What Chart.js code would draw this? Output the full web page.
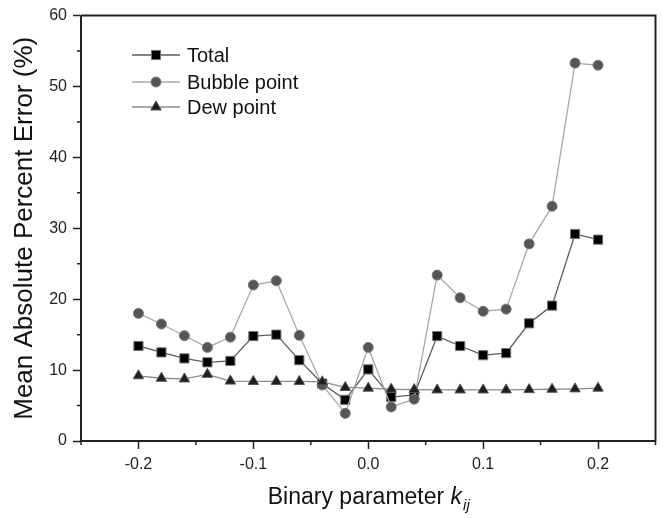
<!DOCTYPE html>
<html>
<head>
<meta charset="utf-8">
<script src="https://cdn.jsdelivr.net/npm/chart.js@4"></script>
<style>
  html, body { margin: 0; padding: 0; background: #fff; }
</style>
</head>
<body>
<canvas id="chart" width="663" height="518"></canvas>
<script>
// data
const kValues = [-0.2, -0.18, -0.16, -0.14, -0.12, -0.1, -0.08, -0.06, -0.04, -0.02, 0,
                 0.02, 0.04, 0.06, 0.08, 0.1, 0.12, 0.14, 0.16, 0.18, 0.2];
const totalErr  = [13.4, 12.5, 11.65, 11.1, 11.3, 14.8, 15.0, 11.4, 8.1, 5.8, 10.1,
                   6.2, 6.5, 14.8, 13.4, 12.1, 12.4, 16.6, 19.1, 29.2, 28.4];
const bubbleErr = [18.0, 16.5, 14.85, 13.2, 14.65, 22.0, 22.6, 14.9, 7.9, 3.9, 13.2,
                   4.8, 5.9, 23.4, 20.2, 18.3, 18.6, 27.8, 33.1, 53.3, 53.0];
const dewErr    = [9.2, 8.85, 8.75, 9.4, 8.45, 8.4, 8.4, 8.4, 8.35, 7.55, 7.45,
                   7.3, 7.25, 7.2, 7.2, 7.2, 7.2, 7.25, 7.3, 7.35, 7.45];
const seriesNames = ['Total', 'Bubble point', 'Dew point'];
const xTicks = [-0.2, -0.1, 0.0, 0.1, 0.2];

const FONT = "'Liberation Sans', Arial, sans-serif";

function pts(ys){
  return kValues.map((k, i) => ({x: k, y: ys[i]}));
}

// Little helper to draw a marker like Chart.js does (for the legend)
function marker(ctx, style, x, y, r, fill, stroke){
  ctx.save();
  ctx.fillStyle = fill;
  ctx.strokeStyle = stroke;
  ctx.lineWidth = 1;
  ctx.beginPath();
  if(style === 'rect'){
    const s = Math.SQRT1_2 * r;
    ctx.rect(x - s, y - s, 2 * s, 2 * s);
  } else if(style === 'triangle'){
    ctx.moveTo(x, y - r);
    ctx.lineTo(x + Math.sin(Math.PI * 2 / 3) * r, y + r / 2);
    ctx.lineTo(x - Math.sin(Math.PI * 2 / 3) * r, y + r / 2);
    ctx.closePath();
  } else {
    ctx.arc(x, y, r, 0, Math.PI * 2);
  }
  ctx.fill();
  ctx.stroke();
  ctx.restore();
}

const isMajorX = v => Math.abs(v * 10 - Math.round(v * 10)) < 1e-6;
const isMajorY = v => Math.abs(v % 10) < 1e-6;

// frame, minor ticks, legend, x title
const extras = {
  id: 'extras',
  afterDraw(chart){
    const ctx = chart.ctx;
    const a = chart.chartArea;
    const xs = chart.scales.x, ys = chart.scales.y;

    ctx.save();
    // top + right border
    ctx.strokeStyle = '#222';
    ctx.lineWidth = 2;
    ctx.beginPath();
    ctx.moveTo(a.left, a.top);
    ctx.lineTo(a.right, a.top);
    ctx.lineTo(a.right, a.bottom);
    ctx.stroke();

    // short minor ticks
    ctx.lineWidth = 1.5;
    ctx.beginPath();
    xs.ticks.forEach(t => {
      if(!isMajorX(t.value)){
        const px = xs.getPixelForValue(t.value);
        ctx.moveTo(px, a.bottom);
        ctx.lineTo(px, a.bottom + 4);
      }
    });
    ys.ticks.forEach(t => {
      if(!isMajorY(t.value)){
        const py = ys.getPixelForValue(t.value);
        ctx.moveTo(a.left - 4, py);
        ctx.lineTo(a.left, py);
      }
    });
    ctx.stroke();

    // legend
    const rowY = [55, 82, 107];
    chart.data.datasets.forEach((ds, i) => {
      const y = rowY[i];
      ctx.strokeStyle = ds.borderColor;
      ctx.lineWidth = ds.borderWidth;
      ctx.beginPath();
      ctx.moveTo(132, y);
      ctx.lineTo(180, y);
      ctx.stroke();
      marker(ctx, ds.pointStyle, 156, y, ds.pointRadius, ds.pointBackgroundColor, ds.pointBorderColor);
      ctx.fillStyle = '#111';
      ctx.font = '20px ' + FONT;
      ctx.textBaseline = 'middle';
      ctx.textAlign = 'left';
      ctx.fillText(ds.label, 187, y + 1);
    });

    // x axis title with italic subscript
    const main = 'Binary parameter ';
    const f1 = '23px ' + FONT, f2 = 'italic 23px ' + FONT, f3 = 'italic 15px ' + FONT;
    ctx.font = f1; const w1 = ctx.measureText(main).width;
    ctx.font = f2; const w2 = ctx.measureText('k').width;
    ctx.font = f3; const w3 = ctx.measureText('ij').width;
    let x0 = (a.left + a.right) / 2 - (w1 + w2 + w3) / 2;
    const base = 504;
    ctx.fillStyle = '#111';
    ctx.textBaseline = 'alphabetic';
    ctx.textAlign = 'left';
    ctx.font = f1; ctx.fillText(main, x0, base);
    ctx.font = f2; ctx.fillText('k', x0 + w1, base);
    ctx.font = f3; ctx.fillText('ij', x0 + w1 + w2 + 1, base + 6);
    ctx.restore();
  }
};

new Chart(document.getElementById('chart'), {
  type: 'line',
  data: {
    datasets: [
      {
        label: seriesNames[0],
        data: pts(totalErr),
        borderColor: '#5a5a5a',
        borderWidth: 1.3,
        pointStyle: 'rect',
        pointRadius: 6.5,
        pointBackgroundColor: '#000',
        pointBorderColor: '#777',
        pointBorderWidth: 1,
        order: 2
      },
      {
        label: seriesNames[1],
        data: pts(bubbleErr),
        borderColor: '#a8a8a8',
        borderWidth: 1.3,
        pointStyle: 'circle',
        pointRadius: 5,
        pointBackgroundColor: '#555',
        pointBorderColor: '#777',
        pointBorderWidth: 1,
        order: 1
      },
      {
        label: seriesNames[2],
        data: pts(dewErr),
        borderColor: '#8a8a8a',
        borderWidth: 1.3,
        pointStyle: 'triangle',
        pointRadius: 6,
        pointBackgroundColor: '#1e1e1e',
        pointBorderColor: '#555',
        pointBorderWidth: 1,
        order: 0
      }
    ]
  },
  options: {
    responsive: false,
    animation: false,
    devicePixelRatio: 1,
    layout: { padding: { top: 15, right: 6, left: 0, bottom: 0 } },
    elements: { line: { tension: 0 } },
    plugins: {
      legend: { display: false },
      tooltip: { enabled: false }
    },
    scales: {
      x: {
        type: 'linear',
        min: -0.25,
        max: 0.25,
        afterFit: s => { s.height = 77; },
        border: { display: true, color: '#222', width: 2 },
        grid: {
          drawOnChartArea: false,
          drawTicks: true,
          tickLength: 8,
          tickWidth: 1.5,
          tickColor: c => (c.tick && isMajorX(c.tick.value)) ? '#222' : 'rgba(0,0,0,0)'
        },
        ticks: {
          stepSize: 0.05,
          padding: 6,
          color: '#222',
          font: { size: 16, family: FONT },
          maxRotation: 0,
          autoSkip: false,
          callback: v => xTicks.some(t => Math.abs(t - v) < 1e-6) ? v.toFixed(1) : ''
        }
      },
      y: {
        min: 0,
        max: 60,
        afterFit: s => { s.width = 81; },
        border: { display: true, color: '#222', width: 2 },
        grid: {
          drawOnChartArea: false,
          drawTicks: true,
          tickLength: 8,
          tickWidth: 1.5,
          tickColor: c => (c.tick && isMajorY(c.tick.value)) ? '#222' : 'rgba(0,0,0,0)'
        },
        ticks: {
          stepSize: 5,
          padding: 6,
          color: '#222',
          font: { size: 16, family: FONT },
          autoSkip: false,
          callback: v => isMajorY(v) ? String(v) : ''
        },
        title: {
          display: true,
          text: 'Mean Absolute Percent Error (%)',
          color: '#111',
          font: { size: 26, family: FONT },
          padding: { top: 9, bottom: 0 }
        }
      }
    }
  },
  plugins: [extras]
});
</script>
</body>
</html>
